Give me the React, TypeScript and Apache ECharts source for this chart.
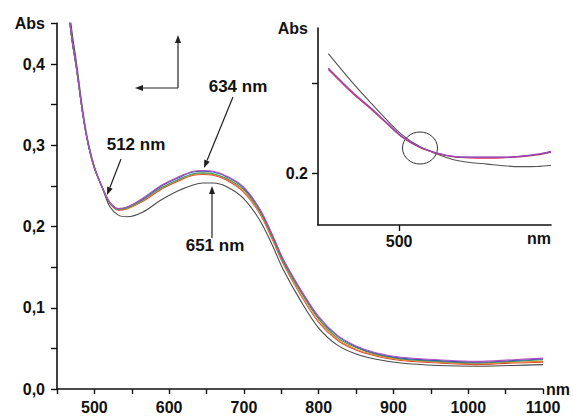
import React, { useEffect, useRef } from "react";
import * as echarts from "echarts";

// ---- main spectra (nm, Abs) ----
const wavelengths = [465, 470, 476, 485, 492, 500, 512, 521, 532, 544, 565, 588, 610, 632, 645, 659, 677, 699, 721, 739, 752, 775, 800, 825, 850, 875, 910, 960, 1010, 1060, 1100];
const purpleAbs = [0.47, 0.43, 0.395, 0.335, 0.3, 0.272, 0.245, 0.229, 0.222, 0.224, 0.235, 0.25, 0.26, 0.268, 0.269, 0.268, 0.262, 0.249, 0.222, 0.188, 0.161, 0.124, 0.089, 0.066, 0.053, 0.045, 0.039, 0.036, 0.034, 0.036, 0.038];
const blueAbs = [0.47, 0.43, 0.395, 0.335, 0.3, 0.272, 0.245, 0.229, 0.222, 0.224, 0.234, 0.249, 0.259, 0.267, 0.268, 0.267, 0.261, 0.248, 0.221, 0.187, 0.16, 0.123, 0.088, 0.065, 0.052, 0.044, 0.038, 0.035, 0.033, 0.035, 0.037];
const greenAbs = [0.47, 0.43, 0.395, 0.335, 0.3, 0.272, 0.245, 0.229, 0.221, 0.223, 0.233, 0.247, 0.257, 0.265, 0.266, 0.265, 0.259, 0.246, 0.219, 0.185, 0.158, 0.121, 0.086, 0.063, 0.051, 0.043, 0.037, 0.034, 0.032, 0.034, 0.036];
const orangeAbs = [0.47, 0.43, 0.395, 0.335, 0.3, 0.272, 0.245, 0.229, 0.221, 0.222, 0.232, 0.246, 0.256, 0.264, 0.265, 0.264, 0.258, 0.244, 0.217, 0.183, 0.156, 0.118, 0.083, 0.061, 0.049, 0.042, 0.036, 0.033, 0.031, 0.033, 0.034];
const redAbs = [0.47, 0.43, 0.395, 0.335, 0.3, 0.272, 0.245, 0.228, 0.22, 0.222, 0.231, 0.245, 0.255, 0.263, 0.264, 0.263, 0.257, 0.243, 0.216, 0.182, 0.155, 0.117, 0.082, 0.06, 0.048, 0.041, 0.035, 0.032, 0.03, 0.032, 0.033];
const blackAbs = [0.48, 0.44, 0.402, 0.34, 0.303, 0.274, 0.244, 0.224, 0.214, 0.212, 0.218, 0.232, 0.243, 0.251, 0.2535, 0.2535, 0.249, 0.235, 0.208, 0.175, 0.148, 0.11, 0.075, 0.054, 0.043, 0.037, 0.032, 0.029, 0.028, 0.029, 0.03];

// ---- inset spectra ----
const insetWavelengths = [459, 473, 483, 493, 502, 512, 522, 531, 541, 551, 560, 570, 580, 588];
const insetBlack = [0.2667, 0.2505, 0.2398, 0.2295, 0.2212, 0.2148, 0.2106, 0.2076, 0.2059, 0.205, 0.2041, 0.2036, 0.2037, 0.2044];
const insetPurple = [0.2583, 0.245, 0.2367, 0.2278, 0.22, 0.2144, 0.2111, 0.2094, 0.2089, 0.2089, 0.2089, 0.2094, 0.2106, 0.2122];
const insetRed = [0.2578, 0.2445, 0.2363, 0.2275, 0.2198, 0.2143, 0.211, 0.2091, 0.2084, 0.2083, 0.2085, 0.209, 0.2101, 0.2117];
const insetBlue = [0.2586, 0.2452, 0.2369, 0.228, 0.2201, 0.2145, 0.2112, 0.2093, 0.2088, 0.2088, 0.2088, 0.2093, 0.2104, 0.2119];

const FONT = "'Liberation Sans', Arial, sans-serif";

function arrow(x1: number, y1: number, x2: number, y2: number, head = 8, half = 3) {
  const dx = x2 - x1, dy = y2 - y1;
  const L = Math.hypot(dx, dy);
  const ux = dx / L, uy = dy / L;
  const bx = x2 - ux * head, by = y2 - uy * head;
  const px = -uy * half, py = ux * half;
  return [
    { type: "line", silent: true, shape: { x1, y1, x2: bx, y2: by }, style: { stroke: "#222", lineWidth: 1.2 } },
    { type: "polygon", silent: true, shape: { points: [[x2, y2], [bx + px, by + py], [bx - px, by - py]] }, style: { fill: "#222" } },
  ];
}

function txt(x: number, y: number, text: string, align = "center", size = 17) {
  return {
    type: "text",
    silent: true,
    x,
    y,
    style: { text, fill: "#111", font: `bold ${size}px ${FONT}`, align, verticalAlign: "middle" },
  };
}

export default function App() {
  const ref = useRef<HTMLDivElement>(null);
  useEffect(() => {
    const chart = echarts.init(ref.current!, undefined, { renderer: "svg" });
    const pair = (xs: number[], ys: number[]) => xs.map((x, i) => [x, ys[i]]);
    const mainSeries = [
      { name: "black", data: blackAbs, color: "#4a4a4a" },
      { name: "red", data: redAbs, color: "#e03a2a" },
      { name: "orange", data: orangeAbs, color: "#e88a2a" },
      { name: "green", data: greenAbs, color: "#3a9a5a" },
      { name: "blue", data: blueAbs, color: "#3a52b8" },
      { name: "purple", data: purpleAbs, color: "#b050c0" },
    ].map((s) => ({
      type: "line",
      name: s.name,
      xAxisIndex: 0,
      yAxisIndex: 0,
      data: pair(wavelengths, s.data),
      showSymbol: false,
      smooth: 0.35,
      lineStyle: { color: s.color, width: 1.1 },
      clip: true,
    }));
    const insetSeries = [
      { name: "iblack", data: insetBlack, color: "#555555" },
      { name: "ired", data: insetRed, color: "#e0305a" },
      { name: "iblue", data: insetBlue, color: "#4a55b8" },
      { name: "ipurple", data: insetPurple, color: "#b040b0" },
    ].map((s) => ({
      type: "line",
      name: s.name,
      xAxisIndex: 1,
      yAxisIndex: 1,
      data: pair(insetWavelengths, s.data),
      showSymbol: false,
      smooth: 0.35,
      lineStyle: { color: s.color, width: 1.1 },
      clip: true,
    }));

    const axisLine = { show: true, lineStyle: { color: "#111", width: 1.6 } };
    const labelStyle = { color: "#111", fontWeight: "bold", fontSize: 16, fontFamily: FONT };

    chart.setOption({
      animation: false,
      backgroundColor: "#ffffff",
      grid: [
        { left: 57, right: 30, top: 23.4, bottom: 27, containLabel: false },
        { left: 318, right: 22, top: 28, bottom: 191, containLabel: false },
      ],
      xAxis: [
        {
          type: "value",
          gridIndex: 0,
          min: 450,
          max: 1100,
          interval: 50,
          axisLine,
          axisTick: { show: true, length: 5, lineStyle: { color: "#111", width: 1.4 } },
          axisLabel: {
            ...labelStyle,
            margin: 10,
            formatter: (v: number) => (v % 100 === 0 ? String(v) : ""),
          },
          splitLine: { show: false },
          name: "nm",
          nameLocation: "end",
          nameGap: 3,
          nameTextStyle: { ...labelStyle },
        },
        {
          type: "value",
          gridIndex: 1,
          min: 453,
          max: 588,
          axisLine,
          axisTick: { show: true, length: 6, customValues: [500], lineStyle: { color: "#111", width: 1.4 } },
          axisLabel: { ...labelStyle, margin: 8, customValues: [500], formatter: (v: number) => String(Math.round(v)) },
          splitLine: { show: false },
        },
      ],
      yAxis: [
        {
          type: "value",
          gridIndex: 0,
          min: 0,
          max: 0.45,
          interval: 0.05,
          axisLine,
          axisTick: { show: true, length: 6, lineStyle: { color: "#111", width: 1.4 } },
          axisLabel: {
            ...labelStyle,
            margin: 12,
            formatter: (v: number) => {
              if (Math.abs(v - 0.45) < 1e-6) return "Abs";
              const r = Math.round(v * 10);
              if (Math.abs(v * 10 - r) < 1e-6) return (r / 10).toFixed(1).replace(".", ",");
              return "";
            },
          },
          splitLine: { show: false },
        },
        {
          type: "value",
          gridIndex: 1,
          min: 0.171,
          max: 0.281,
          axisLine,
          axisTick: { show: true, length: 6, customValues: [0.2, 0.25], lineStyle: { color: "#111", width: 1.4 } },
          axisLabel: {
            ...labelStyle,
            margin: 10,
            customValues: [0.2, 0.281],
            formatter: (v: number) => (v > 0.27 ? "Abs" : v.toFixed(1)),
          },
          splitLine: { show: false },
        },
      ],
      series: [...mainSeries, ...insetSeries],
      graphic: [
        txt(136, 144, "512 nm"),
        txt(238, 86, "634 nm"),
        txt(215, 245, "651 nm"),
        txt(551, 238, "nm", "right", 16),
        ...arrow(121, 159, 107, 195),
        ...arrow(233, 97, 204, 168),
        ...arrow(212, 238, 212, 186),
        ...arrow(178, 88, 178, 35),
        ...arrow(178, 88, 135, 88),
        {
          type: "ellipse",
          silent: true,
          shape: { cx: 420, cy: 148, rx: 17.5, ry: 16 },
          style: { fill: "none", stroke: "#333", lineWidth: 1 },
        },
      ],
    });
    return () => chart.dispose();
  }, []);
  return <div ref={ref} style={{ position: "fixed", left: 0, top: 0, width: 573, height: 416 }} />;
}
